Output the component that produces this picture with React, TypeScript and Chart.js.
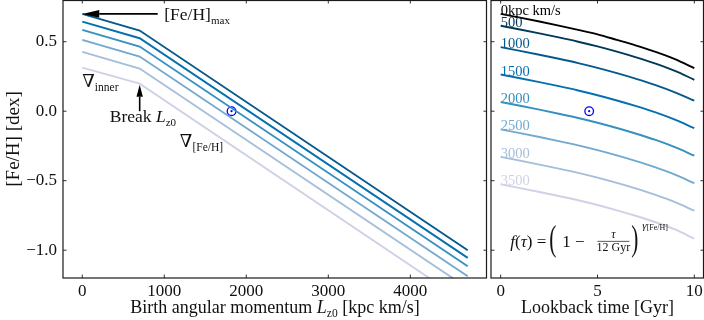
import React, { useEffect, useRef } from "react";
import { Chart, registerables } from "chart.js";
Chart.register(...registerables);

const FAM = "'Liberation Serif', 'DejaVu Serif', serif";
const INK = "#111111";

// ---------- left panel data ----------
const L_BIRTH = [0, 700, 4700];
const FEH_TAU0 = [0.7, 0.58, -1.0];
const FEH_TAU2 = [0.645, 0.525, -1.055];
const FEH_TAU4 = [0.585, 0.465, -1.115];
const FEH_TAU6 = [0.513, 0.393, -1.187];
const FEH_TAU8 = [0.427, 0.307, -1.273];
const FEH_TAU10 = [0.314, 0.198, -1.386];
const LEFT_LINES = [FEH_TAU0, FEH_TAU2, FEH_TAU4, FEH_TAU6, FEH_TAU8, FEH_TAU10];
const LEFT_COLORS = ["#045a8d", "#0570b0", "#3690c0", "#74a9cf", "#a6bddb", "#d0d1e6"];
const X_TICKS_L = [0, 1000, 2000, 3000, 4000];
const Y_TICKS = [-1.0, -0.5, 0.0, 0.5];
const Y_TICK_LABELS = ["−1.0", "−0.5", "0.0", "0.5"];
const SUN_LEFT = [1820, 0.0];

// ---------- right panel data ----------
const LOOKBACK = [0, 1, 2, 3, 4, 5, 6, 7, 8, 9, 10];
const FEH_L0 = [0.7, 0.673, 0.645, 0.616, 0.585, 0.553, 0.513, 0.472, 0.427, 0.375, 0.31];
const FEH_L500 = [0.615, 0.588, 0.56, 0.531, 0.5, 0.466, 0.428, 0.387, 0.342, 0.29, 0.226];
const FEH_L1000 = [0.461, 0.434, 0.406, 0.377, 0.346, 0.312, 0.274, 0.233, 0.188, 0.136, 0.076];
const FEH_L1500 = [0.264, 0.237, 0.209, 0.18, 0.149, 0.115, 0.077, 0.036, -0.009, -0.061, -0.122];
const FEH_L2000 = [0.066, 0.039, 0.011, -0.018, -0.049, -0.083, -0.121, -0.162, -0.207, -0.259, -0.32];
const FEH_L2500 = [-0.131, -0.158, -0.186, -0.215, -0.246, -0.28, -0.318, -0.359, -0.404, -0.456, -0.518];
const FEH_L3000 = [-0.329, -0.356, -0.384, -0.413, -0.444, -0.478, -0.516, -0.557, -0.602, -0.654, -0.716];
const FEH_L3500 = [-0.526, -0.553, -0.581, -0.61, -0.641, -0.675, -0.713, -0.754, -0.799, -0.851, -0.917];
const RIGHT_SERIES = [FEH_L0, FEH_L500, FEH_L1000, FEH_L1500, FEH_L2000, FEH_L2500, FEH_L3000, FEH_L3500];
const RIGHT_LABELS = ["0kpc km/s", "500", "1000", "1500", "2000", "2500", "3000", "3500"];
const RIGHT_COLORS = ["#000000", "#023858", "#045a8d", "#0570b0", "#3690c0", "#74a9cf", "#a6bddb", "#d0d1e6"];
const X_TICKS_R = [0, 5, 10];
const SUN_RIGHT = [4.57, 0.0];

type Seg = { t: string; size: number; italic?: boolean; dy?: number };
const fontOf = (s: Seg) => `${s.italic ? "italic " : ""}${s.size}px ${FAM}`;

function drawSegs(ctx: CanvasRenderingContext2D, segs: Seg[], x: number, y: number, align: string, color = INK) {
  let total = 0;
  for (const s of segs) {
    ctx.font = fontOf(s);
    total += ctx.measureText(s.t).width;
  }
  let cx = align === "left" ? x : align === "center" ? x - total / 2 : x - total;
  ctx.fillStyle = color;
  ctx.textAlign = "left";
  ctx.textBaseline = "alphabetic";
  for (const s of segs) {
    ctx.font = fontOf(s);
    ctx.fillText(s.t, cx, y + (s.dy || 0));
    cx += ctx.measureText(s.t).width;
  }
  return cx;
}

function drawArrow(ctx: CanvasRenderingContext2D, x0: number, y0: number, x1: number, y1: number, hl: number, hw: number, lw: number) {
  const ang = Math.atan2(y1 - y0, x1 - x0);
  const bx = x1 - hl * Math.cos(ang);
  const by = y1 - hl * Math.sin(ang);
  ctx.save();
  ctx.strokeStyle = "#000";
  ctx.fillStyle = "#000";
  ctx.lineWidth = lw;
  ctx.beginPath();
  ctx.moveTo(x0, y0);
  ctx.lineTo(bx, by);
  ctx.stroke();
  const nx = -Math.sin(ang), ny = Math.cos(ang);
  ctx.beginPath();
  ctx.moveTo(x1, y1);
  ctx.lineTo(bx + nx * hw, by + ny * hw);
  ctx.lineTo(bx - nx * hw, by - ny * hw);
  ctx.closePath();
  ctx.fill();
  ctx.restore();
}

function frameAndTicks(chart: any, xt: number[], yt: number[]) {
  const ctx = chart.ctx as CanvasRenderingContext2D;
  const { left, right, top, bottom } = chart.chartArea;
  const xs = chart.scales.x, ys = chart.scales.y;
  ctx.save();
  ctx.strokeStyle = "#1a1a1a";
  ctx.lineWidth = 0.9;
  const tl = 3.5;
  ctx.beginPath();
  for (const v of xt) {
    const p = xs.getPixelForValue(v);
    ctx.moveTo(p, bottom);
    ctx.lineTo(p, bottom - tl);
    ctx.moveTo(p, top);
    ctx.lineTo(p, top + tl);
  }
  for (const v of yt) {
    const p = ys.getPixelForValue(v);
    ctx.moveTo(left, p);
    ctx.lineTo(left + tl, p);
    ctx.moveTo(right, p);
    ctx.lineTo(right - tl, p);
  }
  ctx.stroke();
  ctx.lineWidth = 1.2;
  ctx.strokeRect(left, top + 0.5, right - left - 0.5, bottom - top - 0.5);
  ctx.restore();
}

const leftPlugin = {
  id: "leftAnno",
  afterDraw(chart: any) {
    const ctx = chart.ctx as CanvasRenderingContext2D;
    const xs = chart.scales.x, ys = chart.scales.y;
    const px = (v: number) => xs.getPixelForValue(v);
    const py = (v: number) => ys.getPixelForValue(v);
    frameAndTicks(chart, X_TICKS_L, Y_TICKS);
    // [Fe/H]max arrow
    drawArrow(ctx, px(920), py(0.7), px(0), py(0.7), 17, 3.8, 1.6);
    drawSegs(ctx, [{ t: "[Fe/H]", size: 17.5 }, { t: "max", size: 11, dy: 4 }], px(1000), py(0.7) + 6, "left");
    // nabla inner
    drawSegs(ctx, [{ t: "∇", size: 18 }, { t: "inner", size: 11.5, dy: 4 }], px(0), py(0.21) + 5, "left");
    // break arrow
    drawArrow(ctx, px(700), py(0.0), px(700), py(0.19), 12, 3.2, 1.6);
    drawSegs(ctx, [{ t: "Break ", size: 17.5 }, { t: "L", size: 17.5, italic: true }, { t: "z0", size: 11, italic: false, dy: 4 }], px(740), py(-0.05) + 4, "center");
    // nabla [Fe/H]
    drawSegs(ctx, [{ t: "∇", size: 18 }, { t: "[Fe/H]", size: 11.5, dy: 4 }], px(1190), py(-0.23) + 4, "left");
    // axis titles
    const area = chart.chartArea;
    drawSegs(ctx, [{ t: "Birth angular momentum ", size: 18 }, { t: "L", size: 18, italic: true }, { t: "z0", size: 11.5, dy: 4 }, { t: " [kpc km/s]", size: 18 }], (area.left + area.right) / 2, 313, "center");
    ctx.save();
    ctx.translate(19, (area.top + area.bottom) / 2);
    ctx.rotate(-Math.PI / 2);
    drawSegs(ctx, [{ t: "[Fe/H] [dex]", size: 19 }], 0, 0, "center");
    ctx.restore();
  },
};

const rightPlugin = {
  id: "rightAnno",
  afterDraw(chart: any) {
    const ctx = chart.ctx as CanvasRenderingContext2D;
    const xs = chart.scales.x, ys = chart.scales.y;
    const px = (v: number) => xs.getPixelForValue(v);
    const py = (v: number) => ys.getPixelForValue(v);
    frameAndTicks(chart, X_TICKS_R, Y_TICKS);
    RIGHT_SERIES.forEach((s, i) => {
      drawSegs(ctx, [{ t: RIGHT_LABELS[i], size: 14.5 }], px(LOOKBACK[0]), py(s[0]) + 1, "left", RIGHT_COLORS[i]);
    });
    // formula
    const x0 = px(0.5);
    const yb = py(-0.976);
    drawSegs(ctx, [{ t: "f", size: 17, italic: true }, { t: "(", size: 17 }, { t: "τ", size: 17, italic: true }, { t: ") =", size: 17 }], x0, yb, "left");
    const bigParen = (ch: string, x: number) => {
      ctx.save();
      ctx.translate(x, yb - 6);
      ctx.scale(1.25, 2.1);
      ctx.font = `17px ${FAM}`;
      ctx.fillStyle = INK;
      ctx.textAlign = "left";
      ctx.textBaseline = "middle";
      ctx.fillText(ch, 0, 0);
      ctx.restore();
    };
    bigParen("(", x0 + 39);
    drawSegs(ctx, [{ t: "1 − ", size: 17 }], x0 + 52, yb, "left");
    const fc = x0 + 103;
    drawSegs(ctx, [{ t: "τ", size: 12, italic: true }], fc, yb - 9, "center");
    ctx.save();
    ctx.strokeStyle = INK;
    ctx.lineWidth = 0.7;
    ctx.beginPath();
    ctx.moveTo(fc - 16, yb - 5.5);
    ctx.lineTo(fc + 16, yb - 5.5);
    ctx.stroke();
    ctx.restore();
    drawSegs(ctx, [{ t: "12 Gyr", size: 12 }], fc, yb + 4.5, "center");
    bigParen(")", x0 + 121);
    drawSegs(ctx, [{ t: "γ", size: 11, italic: true }, { t: "[Fe/H]", size: 8, dy: 1 }], x0 + 132, yb - 18, "left");
    // axis title
    const area = chart.chartArea;
    drawSegs(ctx, [{ t: "Lookback time [Gyr]", size: 18 }], (area.left + area.right) / 2, 313, "center");
  },
};

const tickFont = { family: FAM, size: 17 };

function sunSets(pt: number[]) {
  return [
    {
      type: "line",
      data: [{ x: pt[0], y: pt[1] }],
      showLine: false,
      pointRadius: 4.3,
      pointBorderWidth: 1.3,
      pointBorderColor: "#0000ff",
      pointBackgroundColor: "rgba(0,0,0,0)",
    },
    {
      type: "line",
      data: [{ x: pt[0], y: pt[1] }],
      showLine: false,
      pointRadius: 1.1,
      pointBorderWidth: 0,
      pointBorderColor: "#0000ff",
      pointBackgroundColor: "#0000ff",
    },
  ];
}

function baseScales(xMin: number, xMax: number, xTicks: number[], showY: boolean) {
  return {
    x: {
      type: "linear",
      min: xMin,
      max: xMax,
      grid: { display: false, drawTicks: false },
      border: { display: false },
      afterBuildTicks: (s: any) => {
        s.ticks = xTicks.map((v) => ({ value: v }));
      },
      afterFit: (s: any) => {
        s.height = 42;
        s.paddingLeft = 0;
        s.paddingRight = 0;
      },
      ticks: { font: tickFont, color: INK, padding: 3, maxRotation: 0, autoSkip: false, callback: (v: any) => String(v) },
    },
    y: {
      type: "linear",
      display: showY,
      min: -1.2,
      max: 0.8,
      grid: { display: false, drawTicks: false },
      border: { display: false },
      afterBuildTicks: (s: any) => {
        s.ticks = Y_TICKS.map((v) => ({ value: v }));
      },
      afterFit: (s: any) => {
        s.width = showY ? 63 : 0;
        s.paddingTop = 0;
        s.paddingBottom = 0;
      },
      ticks: { font: tickFont, color: INK, padding: 6, autoSkip: false, callback: (_v: any, i: number) => Y_TICK_LABELS[i] },
    },
  };
}

export default function App() {
  const leftRef = useRef<HTMLCanvasElement>(null);
  const rightRef = useRef<HTMLCanvasElement>(null);

  useEffect(() => {
    const leftSets: any[] = LEFT_LINES.map((vals, i) => ({
      data: L_BIRTH.map((x, j) => ({ x, y: vals[j] })),
      borderColor: LEFT_COLORS[i],
      borderWidth: 1.9,
      pointRadius: 0,
      fill: false,
      tension: 0,
    }));
    leftSets.push(...sunSets(SUN_LEFT));
    const left = new Chart(leftRef.current as HTMLCanvasElement, {
      type: "line",
      data: { datasets: leftSets },
      options: {
        animation: false,
        responsive: false,
        events: [],
        layout: { autoPadding: false, padding: { left: 0, right: 217, top: 0, bottom: 0 } },
        plugins: { legend: { display: false }, tooltip: { enabled: false } },
        scales: baseScales(-235, 4935, X_TICKS_L, true) as any,
      },
      plugins: [leftPlugin],
    } as any);

    const rightSets: any[] = RIGHT_SERIES.map((vals, i) => ({
      data: LOOKBACK.map((x, j) => ({ x, y: vals[j] })),
      borderColor: RIGHT_COLORS[i],
      borderWidth: 1.9,
      pointRadius: 0,
      fill: false,
      cubicInterpolationMode: "monotone",
    }));
    rightSets.push(...sunSets(SUN_RIGHT));
    const right = new Chart(rightRef.current as HTMLCanvasElement, {
      type: "line",
      data: { datasets: rightSets },
      options: {
        animation: false,
        responsive: false,
        events: [],
        layout: { autoPadding: false, padding: { left: 491, right: 0, top: 0, bottom: 0 } },
        plugins: { legend: { display: false }, tooltip: { enabled: false } },
        scales: baseScales(-0.5, 10.5, X_TICKS_R, false) as any,
      },
      plugins: [rightPlugin],
    } as any);

    return () => {
      left.destroy();
      right.destroy();
    };
  }, []);

  const cstyle: React.CSSProperties = { position: "absolute", left: 0, top: 0, width: 704, height: 320 };
  return (
    <div style={{ position: "absolute", left: 0, top: 0, width: 704, height: 320, background: "#fff" }}>
      <canvas ref={leftRef} width={704} height={320} style={cstyle} />
      <canvas ref={rightRef} width={704} height={320} style={cstyle} />
    </div>
  );
}
